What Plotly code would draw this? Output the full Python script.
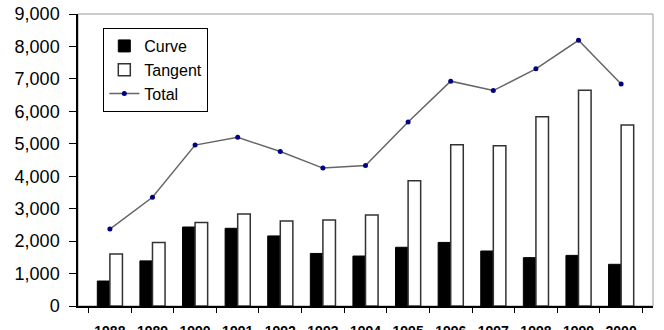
import plotly.graph_objects as go

years = ["1988", "1989", "1990", "1991", "1992", "1993", "1994",
         "1995", "1996", "1997", "1998", "1999", "2000"]
curve = [770, 1390, 2435, 2395, 2160, 1620, 1540, 1810, 1960, 1695, 1490, 1560, 1285]
tangent = [1600, 1960, 2570, 2835, 2620, 2650, 2805, 3860, 4970, 4940, 5835, 6650, 5580]
total = [2370, 3350, 4960, 5200, 4760, 4250, 4330, 5670, 6930, 6640, 7310, 8190, 6840]
y_ticks = [0, 1000, 2000, 3000, 4000, 5000, 6000, 7000, 8000, 9000]

FONT = "Liberation Sans, Arial, sans-serif"

fig = go.Figure()
fig.add_trace(go.Bar(x=years, y=curve, name="Curve",
                     marker=dict(color="black", line=dict(color="black", width=1))))
fig.add_trace(go.Bar(x=years, y=tangent, name="Tangent",
                     marker=dict(color="white", line=dict(color="#333333", width=1.5))))
fig.add_trace(go.Scatter(x=years, y=total, name="Total", mode="lines+markers",
                         line=dict(color="#666666", width=1.5),
                         marker=dict(color="#000080", size=5)))

fig.update_layout(
    width=664, height=330,
    margin=dict(l=78, r=11, t=14, b=24),
    paper_bgcolor="white", plot_bgcolor="white",
    barmode="group", bargap=0.41, bargroupgap=0,
    font=dict(family=FONT, color="black"),
    showlegend=True,
    legend=dict(x=0.044, y=0.952, xanchor="left", yanchor="top",
                bgcolor="white", bordercolor="black", borderwidth=1,
                font=dict(size=16, family=FONT), traceorder="normal"),
    shapes=[dict(type="rect", xref="paper", yref="paper", x0=0, x1=1, y0=0, y1=1,
                 line=dict(color="#999999", width=1), layer="below")],
)
fig.update_xaxes(
    showgrid=False, showline=True, linecolor="black", linewidth=1.5,
    ticks="outside", tickson="boundaries", ticklen=5, tickcolor="black",
    tickfont=dict(size=14, family=FONT, weight="bold"), ticklabelstandoff=11,
    automargin=False,
)
fig.update_yaxes(
    range=[0, 9000], tickvals=y_ticks, tickformat=",d",
    showgrid=False, showline=True, linecolor="black", linewidth=1.5,
    ticks="outside", ticklen=7, tickcolor="black",
    tickfont=dict(size=18, family=FONT), zeroline=False,
    ticklabelstandoff=6, automargin=False,
)
fig.write_html("out.html")
